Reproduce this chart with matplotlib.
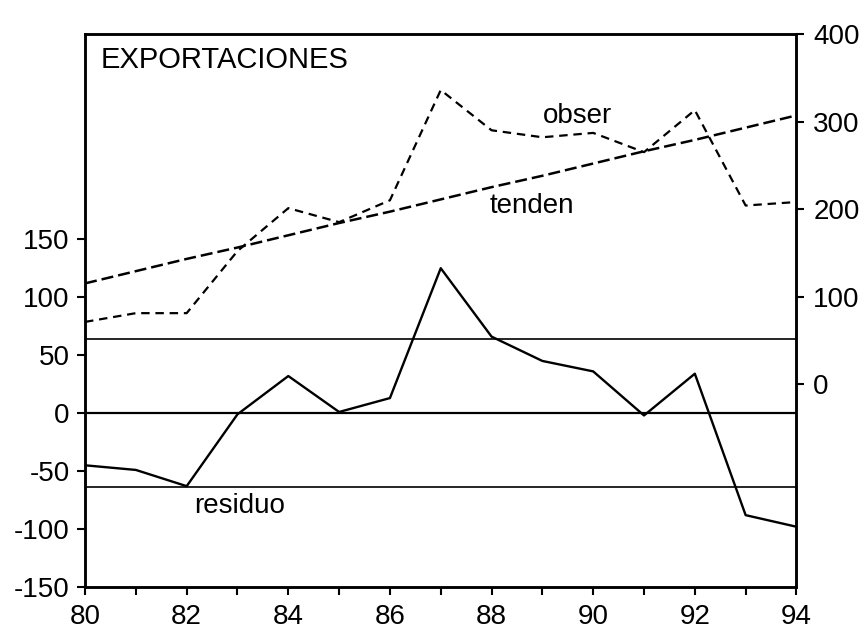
import matplotlib.pyplot as plt
from matplotlib.ticker import MultipleLocator, FixedLocator

plt.rcParams['font.family'] = ['Liberation Sans', 'DejaVu Sans']
plt.rcParams['axes.unicode_minus'] = False

# years 1980..1994, written as two digits like the original
years = [80, 81, 82, 83, 84, 85, 86, 87, 88, 89, 90, 91, 92, 93, 94]
obser = [71, 81, 81, 152, 201, 185, 210, 336, 290, 282, 287, 265, 313, 204, 208]
tenden = [115, 129, 143, 156, 170, 184, 197, 211, 225, 238, 252, 266, 279, 293, 307]
residuo = [-45, -49, -63, -1, 32, 1, 13, 125, 66, 45, 36, -2, 34, -88, -98]
band = 64  # +/- one standard error of the residual


def main():
    fig = plt.figure(figsize=(8.66, 6.36), dpi=100)
    ax = fig.add_axes([0.0982, 0.077, 0.8215, 0.8695])
    ax2 = ax.twinx()

    # left scale: residual with its reference lines
    for lvl in (-band, 0, band):
        ax.axhline(lvl, color='black', lw=1.6 if lvl == 0 else 1.2)
    ax.plot(years, residuo, color='black', lw=1.7)
    ax.set_ylim(-150, 327)
    ax.set_xlim(80, 94)
    ax.yaxis.set_major_locator(FixedLocator([-150, -100, -50, 0, 50, 100, 150]))
    ax.xaxis.set_major_locator(MultipleLocator(2))
    ax.xaxis.set_minor_locator(MultipleLocator(1))
    ax.xaxis.set_major_formatter(plt.FuncFormatter(lambda v, p: '%d' % v))

    # right scale: observed exports and trend
    ax2.plot(years, obser, color='black', lw=1.6, ls=(0, (3.8, 2.6)))
    ax2.plot(years, tenden, color='black', lw=1.8, ls=(0, (4.8, 2.0)))
    ax2.set_ylim(-232, 400)
    ax2.yaxis.set_major_locator(FixedLocator([0, 100, 200, 300, 400]))

    for a in (ax, ax2):
        for s in a.spines.values():
            s.set_linewidth(1.8)
        a.tick_params(axis='both', which='both', direction='out', width=1.5,
                      labelsize=20)
        a.tick_params(axis='both', which='major', length=6)
        a.tick_params(axis='x', which='minor', length=6)
    ax.tick_params(axis='y', pad=5)
    ax.tick_params(axis='x', pad=6)
    ax2.tick_params(axis='y', pad=6)

    ax.text(80.3, 305, 'EXPORTACIONES', fontsize=21, va='center', ha='left')
    ax.text(83.05, -80, 'residuo', fontsize=20, va='center', ha='center')
    ax2.text(89.7, 306, 'obser', fontsize=20, va='center', ha='center')
    ax2.text(88.8, 204, 'tenden', fontsize=20, va='center', ha='center')

    fig.savefig('out.png', dpi=100)


main()
